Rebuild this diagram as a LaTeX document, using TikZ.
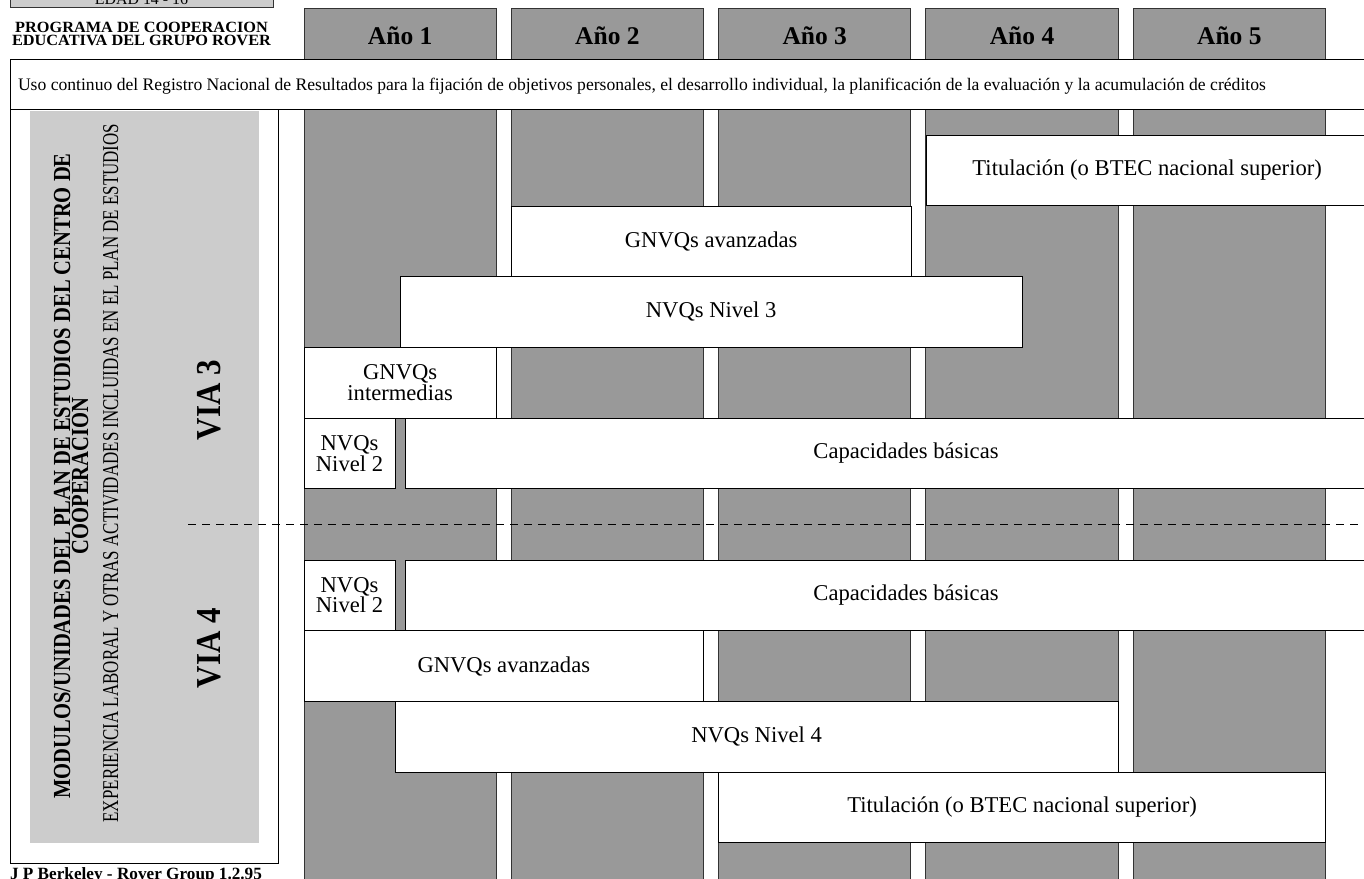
\documentclass[tikz,border=0pt]{standalone}
\usepackage{fontspec}
\setmainfont{Liberation Serif}
\definecolor{colgray}{HTML}{999999}
\definecolor{panelgray}{HTML}{CCCCCC}
\definecolor{edgecol}{HTML}{333333}
\newcommand\boxfont{\fontsize{22.6}{20.5}\selectfont}
\newcommand\headfont{\bfseries\fontsize{25.5}{28}\selectfont}
\newcommand\progfont{\bfseries\fontsize{15.6}{12}\selectfont}
\newcommand\modfont{\bfseries\fontsize{24.5}{18}\selectfont}
\newcommand\wcell[6]{\node[wbox, minimum width={#4pt-#2pt}, minimum height={#5pt-#3pt}] (#1) at (#2,#3) {#6};}
\begin{document}
\begin{tikzpicture}[x=1pt,y=-1pt,
  colbox/.style={draw=edgecol, fill=colgray, line width=0.9pt, inner sep=0pt, outer sep=0pt, anchor=north west, minimum width=192.3pt},
  wbox/.style={draw=black, fill=white, line width=0.9pt, inner sep=0pt, outer sep=0pt, anchor=north west, align=center, font=\boxfont},
  dashline/.style={draw=black, line width=0.8pt, dash pattern=on 8pt off 6pt},
  rottext/.style={rotate=90, anchor=base, inner sep=0pt},
  plaintext/.style={inner sep=0pt, outer sep=0pt}
]
\useasboundingbox (0,0) rectangle (1364,878);

% age box at top
\node[draw=edgecol, fill=panelgray, line width=0.9pt, anchor=south west, inner sep=0pt,
      minimum width=263.3pt, minimum height=40pt] (edadbox) at (10,8) {};
\node[plaintext, anchor=base, font=\fontsize{15.9}{18}\selectfont] (edad) at (141.5,5) {EDAD 14 - 16};

% programme title
\node[plaintext, anchor=base] (prog1) at (141.5,32.6) {\scalebox{1.045}[1]{\progfont PROGRAMA DE COOPERACION}};
\node[plaintext, anchor=base] (prog2) at (141.5,45.5) {\scalebox{1.045}[1]{\progfont EDUCATIVA DEL GRUPO ROVER}};

% year headers and columns
\foreach \i/\n in {0/1,1/2,2/3,3/4,4/5}{
  \node[colbox, minimum height=51pt] (head\n) at ({304+207.3*\i},8) {};
  \node[plaintext, anchor=base, font=\headfont] (year\n) at ({304+207.3*\i+96.15},44.3) {Año \n};
  \node[colbox, minimum height=790pt] (col\n) at ({304+207.3*\i},109) {};
}

% banner
\node[draw=black, fill=white, line width=0.9pt, anchor=north west, inner sep=0pt,
      minimum width=1370pt, minimum height=50pt] (banner) at (10,59) {};
\node[plaintext, anchor=base west, font=\fontsize{17.6}{20}\selectfont] (bannertext) at (18,90.7)
  {Uso continuo del Registro Nacional de Resultados para la fijación de objetivos personales, el desarrollo individual, la planificación de la evaluación y la acumulación de créditos};

% left panel
\node[draw=black, line width=0.9pt, anchor=north west, inner sep=0pt,
      minimum width=268pt, minimum height=754.3pt] (panelframe) at (10,109) {};
\node[fill=panelgray, anchor=north west, inner sep=0pt,
      minimum width=229pt, minimum height=732pt] (panel) at (30,111) {};
\node[rottext] (mod1) at (70,476) {\scalebox{0.84}[1]{\modfont MODULOS/UNIDADES DEL PLAN DE ESTUDIOS DEL CENTRO DE}};
\node[rottext] (mod2) at (88,476) {\scalebox{0.84}[1]{\modfont COOPERACION}};
\node[rottext] (exper) at (118,473) {\scalebox{0.75}[1]{\fontsize{22.6}{24}\selectfont EXPERIENCIA LABORAL Y OTRAS ACTIVIDADES INCLUIDAS EN EL PLAN DE ESTUDIOS}};
\node[rottext] (via3) at (220,400) {\scalebox{0.885}[1]{\bfseries\fontsize{35}{38}\selectfont VIA 3}};
\node[rottext] (via4) at (220,648) {\scalebox{0.885}[1]{\bfseries\fontsize{35}{38}\selectfont VIA 4}};

% qualification bars
\wcell{titA}{926.3}{135}{1368}{205.7}{Titulación (o BTEC nacional superior)}
\wcell{gnvA}{511.3}{206}{911}{276}{GNVQs avanzadas}
\wcell{nvqIII}{400}{276}{1022.3}{347.3}{NVQs Nivel 3}
\wcell{gnvI}{304}{347.3}{496.3}{418.3}{GNVQs\\intermedias}
\wcell{nvqIIa}{304}{418.3}{395}{488.7}{NVQs\\Nivel 2}
\wcell{capA}{405}{418.3}{1407}{488.7}{Capacidades básicas}
\wcell{nvqIIb}{304}{560}{395}{630.7}{NVQs\\Nivel 2}
\wcell{capB}{405}{560}{1407}{630.7}{Capacidades básicas}
\wcell{gnvB}{304}{630.7}{703.6}{701.3}{GNVQs avanzadas}
\wcell{nvqIV}{395}{701.3}{1118.2}{772}{NVQs Nivel 4}
\wcell{titB}{718.6}{772}{1325.5}{842.7}{Titulación (o BTEC nacional superior)}

% dashed divider between VIA 3 and VIA 4
\coordinate (dashL) at (188,524);
\coordinate (dashR) at (1370,524);
\draw[dashline] (dashL) -- (dashR);

% footer
\node[plaintext, anchor=base west, font=\bfseries\fontsize{17.2}{20}\selectfont] (footer) at (10,879) {J P Berkeley - Rover Group 1.2.95};
\end{tikzpicture}
\end{document}
